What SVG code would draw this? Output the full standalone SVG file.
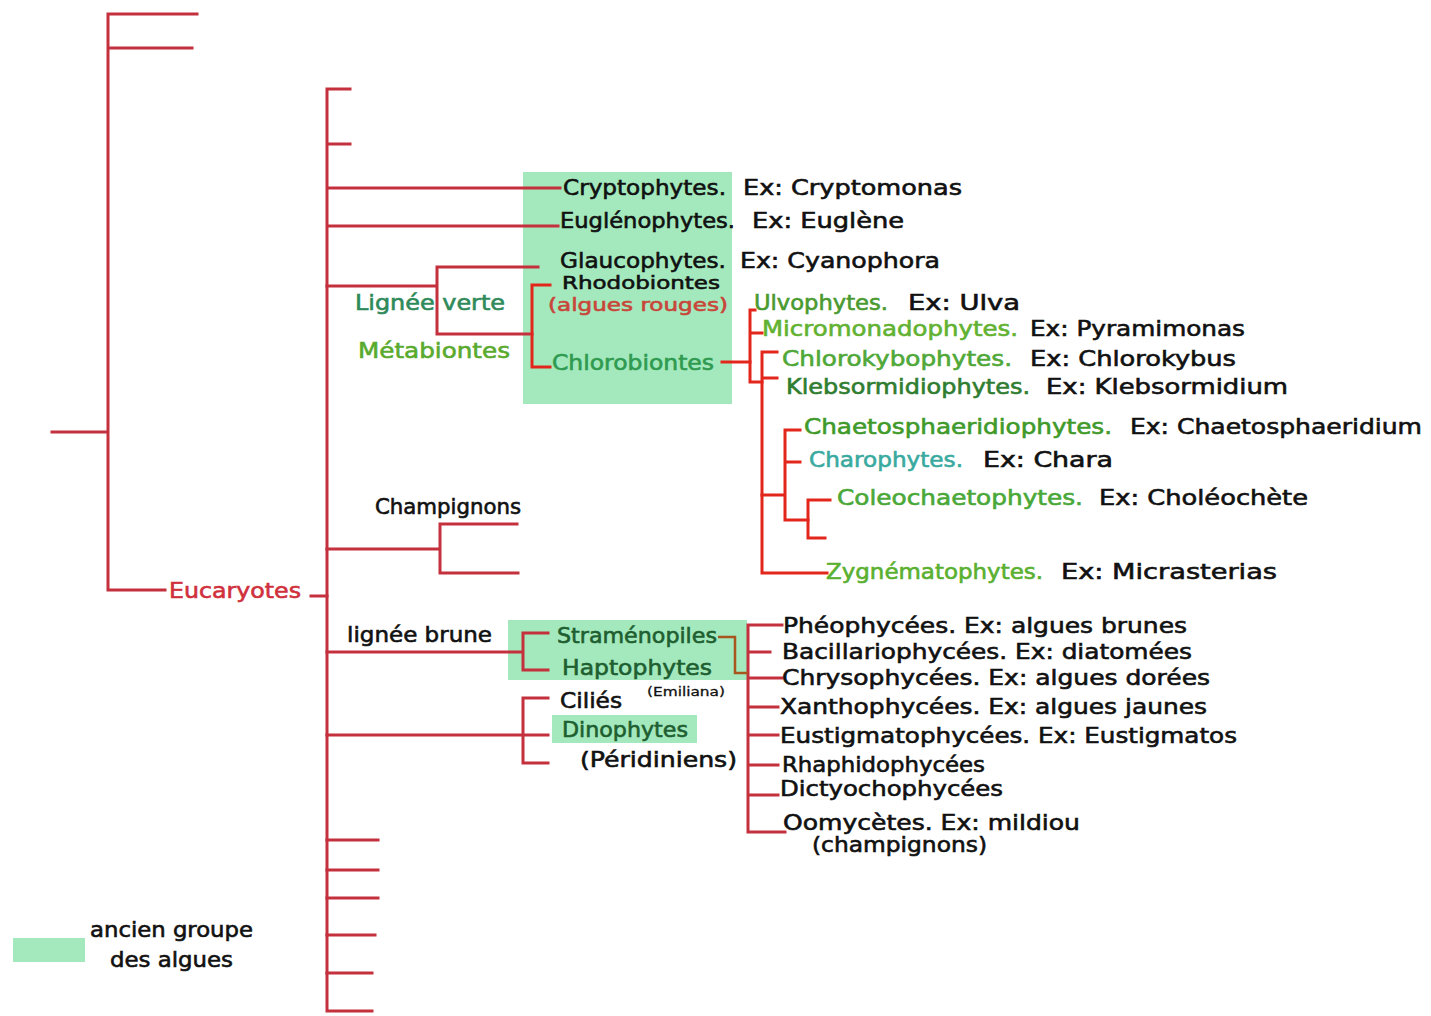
<svg xmlns="http://www.w3.org/2000/svg" width="1431" height="1016" viewBox="0 0 1431 1016">
<style>
.bg{fill:#ffffff}
.box{fill:#a3e9bd}
.ln{fill:none;stroke:#c4303c;stroke-width:3;stroke-linecap:square}
.lr{fill:none;stroke:#e3261c;stroke-width:3;stroke-linecap:square}
.lb{fill:none;stroke:#a8561e;stroke-width:2.5}
text{font-family:"DejaVu Sans","Liberation Sans",sans-serif;font-size:21px;fill:#111;stroke:#111;stroke-width:0.6}
.sm{font-size:12px;stroke-width:0.3}
.t18{font-size:18px}
.red{fill:#c8463a;stroke:#c8463a}
.euc{fill:#d0303c;stroke:#d0303c}
.lv{fill:#2f8a5a;stroke:#2f8a5a}
.met{fill:#5aaa2e;stroke:#5aaa2e}
.chl{fill:#2f9a50;stroke:#2f9a50}
.dg{fill:#1e5e30;stroke:#1e5e30}
.g1{fill:#4a9a30;stroke:#4a9a30}
.g2{fill:#62b232;stroke:#62b232}
.g3{fill:#4fa838;stroke:#4fa838}
.g4{fill:#2f7d30;stroke:#2f7d30}
.g5{fill:#3f9a2a;stroke:#3f9a2a}
.cy{fill:#3aaaa0;stroke:#3aaaa0}
.g6{fill:#4aa838;stroke:#4aa838}
.g7{fill:#5ab030;stroke:#5ab030}
</style>
<rect class="bg" x="0" y="0" width="1431" height="1016"/>
<g id="boxes">
<rect class="box" x="523" y="172" width="209" height="232"/>
<rect class="box" x="508" y="620" width="239" height="60"/>
<rect class="box" x="552" y="715" width="145" height="28"/>
<rect class="box" x="13" y="938" width="72" height="24"/>
</g>
<g id="connectors">
<path class="ln" d="M197,14 H108 V590 H165 M108,48 H192 M52,432 H108"/>
<path class="ln" d="M311,596 H327"/>
<path class="ln" d="M350,89 H327 V1011 H372 M327,144 H350 M327,188 H560 M327,226 H558"/>
<path class="ln" d="M327,286 H437 M538,267 H437 V334 H532"/>
<path class="ln" d="M327,549 H440 M517,524 H440 V573 H518"/>
<path class="ln" d="M327,652 H523 M548,633 H523 V670 H548"/>
<path class="ln" d="M327,735 H548 M548,698 H523 V763 H548"/>
<path class="ln" d="M327,840 H378 M327,870 H378 M327,898 H378 M327,935 H375 M327,973 H372"/>
<path class="ln" d="M782,625 H748 V832 H785 M748,652 H770 M748,678 H782 M748,707 H778 M748,735 H778 M748,765 H778 M748,795 H778"/>
<path class="lb" d="M718,637 H735 V673 H748"/>
<path class="lr" d="M550,285 H532 V367 H550"/>
<path class="lr" d="M722,362 H750"/>
<path class="lr" d="M755,310 H750 V382 H762 M750,333 H762"/>
<path class="lr" d="M777,352 H762 V573 H827 M762,378 H777"/>
<path class="lr" d="M762,495 H785 M800,430 H785 V520 H808 M785,462 H800"/>
<path class="lr" d="M830,500 H808 V538 H825"/>
</g>
<g id="eucaryotes"><text class="euc" x="169" y="598" textLength="132" lengthAdjust="spacingAndGlyphs">Eucaryotes</text></g>
<g id="cryptophytes"><text x="563" y="195" textLength="163" lengthAdjust="spacingAndGlyphs">Cryptophytes.</text><text x="743" y="195" textLength="219" lengthAdjust="spacingAndGlyphs">Ex: Cryptomonas</text></g>
<g id="euglenophytes"><text x="560" y="228" textLength="175" lengthAdjust="spacingAndGlyphs">Euglénophytes.</text><text x="752" y="228" textLength="152" lengthAdjust="spacingAndGlyphs">Ex: Euglène</text></g>
<g id="glaucophytes"><text x="560" y="268" textLength="166" lengthAdjust="spacingAndGlyphs">Glaucophytes.</text><text x="740" y="268" textLength="200" lengthAdjust="spacingAndGlyphs">Ex: Cyanophora</text></g>
<g id="rhodobiontes"><text class="t18" x="562" y="289" textLength="158" lengthAdjust="spacingAndGlyphs">Rhodobiontes</text><text class="red t18" x="548" y="311" textLength="180" lengthAdjust="spacingAndGlyphs">(algues rouges)</text></g>
<g id="lignee-verte"><text class="lv" x="355" y="310" textLength="150" lengthAdjust="spacingAndGlyphs">Lignée verte</text></g>
<g id="metabiontes"><text class="met" x="358" y="358" textLength="152" lengthAdjust="spacingAndGlyphs">Métabiontes</text></g>
<g id="chlorobiontes"><text class="chl" x="552" y="370" textLength="162" lengthAdjust="spacingAndGlyphs">Chlorobiontes</text></g>
<g id="ulvophytes"><text class="g1" x="754" y="310" textLength="134" lengthAdjust="spacingAndGlyphs">Ulvophytes.</text><text x="908" y="310" textLength="112" lengthAdjust="spacingAndGlyphs">Ex: Ulva</text></g>
<g id="micromonadophytes"><text class="g2" x="762" y="336" textLength="256" lengthAdjust="spacingAndGlyphs">Micromonadophytes.</text><text x="1030" y="336" textLength="215" lengthAdjust="spacingAndGlyphs">Ex: Pyramimonas</text></g>
<g id="chlorokybophytes"><text class="g3" x="782" y="366" textLength="230" lengthAdjust="spacingAndGlyphs">Chlorokybophytes.</text><text x="1030" y="366" textLength="206" lengthAdjust="spacingAndGlyphs">Ex: Chlorokybus</text></g>
<g id="klebsormidiophytes"><text class="g4" x="786" y="394" textLength="244" lengthAdjust="spacingAndGlyphs">Klebsormidiophytes.</text><text x="1046" y="394" textLength="242" lengthAdjust="spacingAndGlyphs">Ex: Klebsormidium</text></g>
<g id="chaetosphaeridiophytes"><text class="g5" x="804" y="434" textLength="308" lengthAdjust="spacingAndGlyphs">Chaetosphaeridiophytes.</text><text x="1130" y="434" textLength="292" lengthAdjust="spacingAndGlyphs">Ex: Chaetosphaeridium</text></g>
<g id="charophytes"><text class="cy" x="809" y="467" textLength="154" lengthAdjust="spacingAndGlyphs">Charophytes.</text><text x="983" y="467" textLength="130" lengthAdjust="spacingAndGlyphs">Ex: Chara</text></g>
<g id="coleochaetophytes"><text class="g6" x="837" y="505" textLength="246" lengthAdjust="spacingAndGlyphs">Coleochaetophytes.</text><text x="1099" y="505" textLength="209" lengthAdjust="spacingAndGlyphs">Ex: Choléochète</text></g>
<g id="zygnematophytes"><text class="g7" x="826" y="579" textLength="217" lengthAdjust="spacingAndGlyphs">Zygnématophytes.</text><text x="1061" y="579" textLength="216" lengthAdjust="spacingAndGlyphs">Ex: Micrasterias</text></g>
<g id="champignons"><text x="375" y="514" textLength="146" lengthAdjust="spacingAndGlyphs">Champignons</text></g>
<g id="lignee-brune"><text x="347" y="642" textLength="145" lengthAdjust="spacingAndGlyphs">lignée brune</text></g>
<g id="stramenopiles"><text class="dg" x="557" y="643" textLength="160" lengthAdjust="spacingAndGlyphs">Straménopiles</text></g>
<g id="haptophytes"><text class="dg" x="562" y="675" textLength="150" lengthAdjust="spacingAndGlyphs">Haptophytes</text><text class="sm" x="647" y="696" textLength="78" lengthAdjust="spacingAndGlyphs">(Emiliana)</text></g>
<g id="cilies"><text x="560" y="708" textLength="62" lengthAdjust="spacingAndGlyphs">Ciliés</text></g>
<g id="dinophytes"><text class="dg" x="562" y="737" textLength="126" lengthAdjust="spacingAndGlyphs">Dinophytes</text><text x="580" y="767" textLength="157" lengthAdjust="spacingAndGlyphs">(Péridiniens)</text></g>
<g id="pheophycees"><text x="783" y="633" textLength="404" lengthAdjust="spacingAndGlyphs">Phéophycées. Ex: algues brunes</text></g>
<g id="bacillariophycees"><text x="782" y="659" textLength="410" lengthAdjust="spacingAndGlyphs">Bacillariophycées. Ex: diatomées</text></g>
<g id="chrysophycees"><text x="782" y="685" textLength="428" lengthAdjust="spacingAndGlyphs">Chrysophycées. Ex: algues dorées</text></g>
<g id="xanthophycees"><text x="780" y="714" textLength="427" lengthAdjust="spacingAndGlyphs">Xanthophycées. Ex: algues jaunes</text></g>
<g id="eustigmatophycees"><text x="780" y="743" textLength="457" lengthAdjust="spacingAndGlyphs">Eustigmatophycées. Ex: Eustigmatos</text></g>
<g id="rhaphidophycees"><text x="782" y="772" textLength="203" lengthAdjust="spacingAndGlyphs">Rhaphidophycées</text></g>
<g id="dictyochophycees"><text x="780" y="796" textLength="223" lengthAdjust="spacingAndGlyphs">Dictyochophycées</text></g>
<g id="oomycetes"><text x="783" y="830" textLength="297" lengthAdjust="spacingAndGlyphs">Oomycètes. Ex: mildiou</text><text x="812" y="852" textLength="175" lengthAdjust="spacingAndGlyphs">(champignons)</text></g>
<g id="legend"><text x="90" y="937" textLength="163" lengthAdjust="spacingAndGlyphs">ancien groupe</text><text x="110" y="967" textLength="123" lengthAdjust="spacingAndGlyphs">des algues</text></g>
</svg>
